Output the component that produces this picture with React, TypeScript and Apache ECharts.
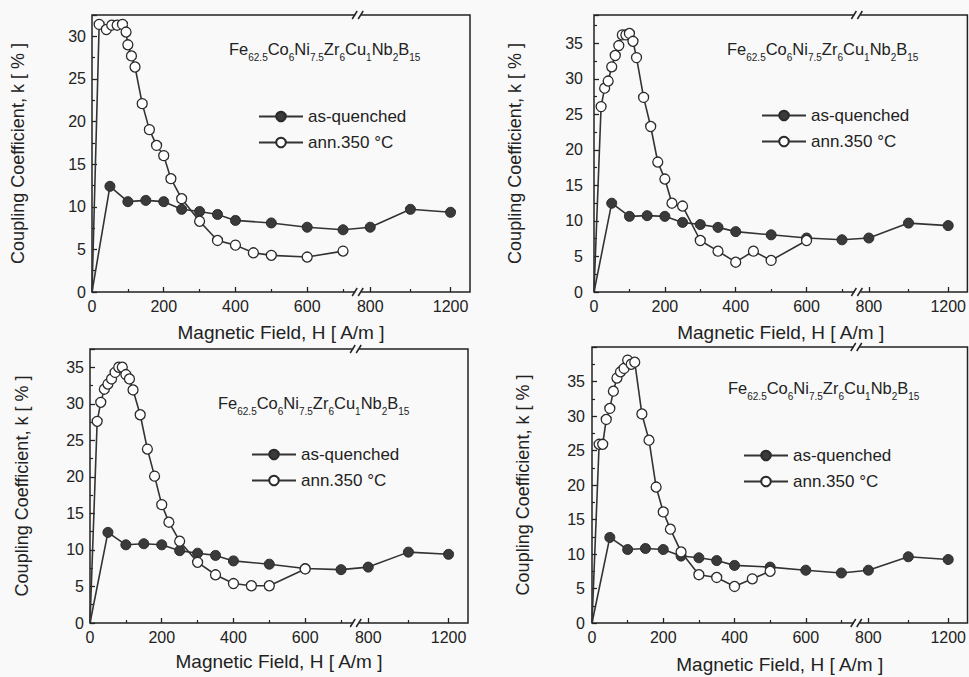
import React, { useEffect, useRef } from 'react';
import * as echarts from 'echarts';

// ---- broken x axis: linear up to the break, compressed after it ----
const BREAK_H = 745;
const COMPRESS = 0.56;
const X_DISPLAY_MAX = 1054;
const toAxis = (h: number) => (h <= BREAK_H ? h : BREAK_H + (h - BREAK_H) * COMPRESS);
const fromAxis = (v: number) => (v <= BREAK_H ? v : BREAK_H + (v - BREAK_H) / COMPRESS);

const X_LABEL_H = [0, 200, 400, 600, 800, 1200];
const X_MINOR_H = [100, 300, 500, 700, 1000];

const SERIES_NAMES = ['as-quenched', 'ann.350 °C'];
const FORMULA = [['Fe', '62.5'], ['Co', '6'], ['Ni', '7.5'], ['Zr', '6'], ['Cu', '1'], ['Nb', '2'], ['B', '15']];

// ---- data (H in A/m, k in %) ----
const AQ_H = [0, 50, 100, 150, 200, 250, 300, 350, 400, 500, 600, 700, 800, 1000, 1200];

const P1_AQ_K = [0, 12.4, 10.6, 10.75, 10.6, 9.7, 9.45, 9.1, 8.4, 8.1, 7.6, 7.3, 7.6, 9.7, 9.35];
const P1_ANN_H = [0, 20, 40, 55, 70, 85, 95, 100, 110, 120, 140, 160, 180, 200, 220, 250, 300, 350, 400, 450, 500, 600, 700];
const P1_ANN_K = [0, 31.4, 30.8, 31.3, 31.3, 31.4, 30.5, 29.0, 27.7, 26.4, 22.1, 19.05, 17.2, 16.0, 13.3, 10.95, 8.3, 6.05, 5.5, 4.6, 4.3, 4.1, 4.8];

const P2_AQ_K = [0, 12.5, 10.65, 10.75, 10.65, 9.8, 9.5, 9.1, 8.5, 8.05, 7.6, 7.35, 7.6, 9.7, 9.35];
const P2_ANN_H = [0, 20, 30, 40, 50, 60, 70, 80, 90, 100, 110, 120, 140, 160, 180, 200, 220, 250, 300, 350, 400, 450, 500, 600];
const P2_ANN_K = [0, 26.1, 28.7, 29.7, 31.7, 33.3, 34.7, 36.2, 36.2, 36.4, 35.3, 33.0, 27.4, 23.3, 18.3, 15.9, 12.5, 12.1, 7.25, 5.75, 4.2, 5.75, 4.45, 7.25];

const P3_AQ_K = [0, 12.4, 10.7, 10.85, 10.7, 9.9, 9.55, 9.25, 8.5, 8.05, 7.45, 7.3, 7.65, 9.7, 9.4];
const P3_ANN_H = [0, 20, 30, 40, 50, 60, 70, 80, 90, 100, 110, 120, 140, 160, 180, 200, 220, 250, 300, 350, 400, 450, 500, 600];
const P3_ANN_K = [0, 27.6, 30.2, 32.0, 32.7, 33.4, 34.3, 35.0, 35.0, 34.0, 33.4, 31.9, 28.5, 23.8, 20.1, 16.2, 13.8, 11.2, 8.3, 6.6, 5.4, 5.1, 5.1, 7.4];

const P4_AQ_K = [0, 12.4, 10.65, 10.8, 10.65, 9.7, 9.45, 9.05, 8.35, 8.1, 7.65, 7.25, 7.65, 9.6, 9.2];
const P4_ANN_H = [0, 20, 30, 40, 50, 60, 70, 80, 90, 100, 110, 120, 140, 160, 180, 200, 220, 250, 300, 350, 400, 450, 500];
const P4_ANN_K = [0, 25.9, 25.9, 29.5, 31.1, 33.6, 35.5, 36.4, 36.9, 38.1, 37.5, 37.8, 30.3, 26.5, 19.7, 16.1, 13.6, 10.3, 7.0, 6.6, 5.3, 6.4, 7.5];

// ---- layout per panel ----
const PANELS = [
  { aqK: P1_AQ_K, annH: P1_ANN_H, annK: P1_ANN_K, left: 92, top: 15, width: 378, height: 277, yMax: 32.5,
    yLabelMargin: 6, yNameGap: 65, xNameGap: 31, legLeft: 258, legTop: 108, fLeft: 229, fTop: 36 },
  { aqK: P2_AQ_K, annH: P2_ANN_H, annK: P2_ANN_K, left: 594, top: 15, width: 374, height: 277, yMax: 39,
    yLabelMargin: 11, yNameGap: 70, xNameGap: 31, legLeft: 761, legTop: 107, fLeft: 727, fTop: 36 },
  { aqK: P3_AQ_K, annH: P3_ANN_H, annK: P3_ANN_K, left: 90, top: 349, width: 378, height: 274, yMax: 37.5,
    yLabelMargin: 6, yNameGap: 59, xNameGap: 29, legLeft: 251, legTop: 446, fLeft: 218, fTop: 390 },
  { aqK: P4_AQ_K, annH: P4_ANN_H, annK: P4_ANN_K, left: 592, top: 347, width: 376, height: 276, yMax: 40,
    yLabelMargin: 7, yNameGap: 60, xNameGap: 32, legLeft: 743, legTop: 447, fLeft: 728, fTop: 375 },
];

const FONT = "'Liberation Sans', Arial, sans-serif";
const INK = '#222';
const BG = '#f9f9f9';

function buildOption() {
  const grid: any[] = [];
  const xAxis: any[] = [];
  const yAxis: any[] = [];
  const series: any[] = [];
  const legend: any[] = [];
  const title: any[] = [];
  const graphic: any[] = [];

  const formulaText = FORMULA.map(([el, sub]) => `{m|${el}}{s|${sub}}`).join('');

  PANELS.forEach((p, i) => {
    grid.push({
      left: p.left, top: p.top, width: p.width, height: p.height,
      show: true, borderColor: INK, borderWidth: 1.5, backgroundColor: 'transparent',
    });
    xAxis.push({
      type: 'value', gridIndex: i, min: 0, max: X_DISPLAY_MAX, position: 'bottom',
      name: 'Magnetic Field, H [ A/m ]', nameLocation: 'middle', nameGap: p.xNameGap,
      nameTextStyle: { fontFamily: FONT, fontSize: 19, color: INK },
      axisLine: { show: false },
      axisTick: { show: true, inside: true, length: 5, customValues: X_LABEL_H.map(toAxis),
        lineStyle: { color: INK, width: 1.3 } },
      axisLabel: { show: true, customValues: X_LABEL_H.map(toAxis), margin: 6,
        fontFamily: FONT, fontSize: 16, color: INK,
        formatter: (v: number) => String(Math.round(fromAxis(v))) },
      splitLine: { show: false },
    });
    xAxis.push({
      type: 'value', gridIndex: i, min: 0, max: X_DISPLAY_MAX, position: 'bottom', offset: 0,
      axisLine: { show: false },
      axisTick: { show: true, inside: true, length: 3, customValues: X_MINOR_H.map(toAxis),
        lineStyle: { color: INK, width: 1.2 } },
      axisLabel: { show: false },
      splitLine: { show: false },
    });
    yAxis.push({
      type: 'value', gridIndex: i, min: 0, max: p.yMax, interval: 5,
      name: 'Coupling Coefficient, k [ % ]', nameLocation: 'middle', nameGap: p.yNameGap,
      nameTextStyle: { fontFamily: FONT, fontSize: 18, color: INK },
      axisLine: { show: false },
      axisTick: { show: true, inside: true, length: 5, lineStyle: { color: INK, width: 1.3 } },
      minorTick: { show: true, splitNumber: 2, length: 3, lineStyle: { color: INK, width: 1.2 } },
      axisLabel: { fontFamily: FONT, fontSize: 16, color: INK, margin: p.yLabelMargin, showMaxLabel: false },
      splitLine: { show: false },
    });

    const mk = (hs: number[], ks: number[]) =>
      hs.map((h, j) => (h === 0 ? { value: [toAxis(h), ks[j]], symbol: 'none' } : [toAxis(h), ks[j]]));

    series.push({
      type: 'line', name: SERIES_NAMES[0], xAxisIndex: 2 * i, yAxisIndex: i,
      data: mk(AQ_H, p.aqK), symbol: 'circle', symbolSize: 10, z: 3,
      lineStyle: { color: '#333', width: 1.6 },
      itemStyle: { color: '#3a3a3a', borderColor: '#2a2a2a', borderWidth: 1 },
    });
    series.push({
      type: 'line', name: SERIES_NAMES[1], xAxisIndex: 2 * i, yAxisIndex: i,
      data: mk(p.annH, p.annK), symbol: 'circle', symbolSize: 10, z: 4,
      lineStyle: { color: '#333', width: 1.6 },
      itemStyle: { color: '#ffffff', borderColor: '#2a2a2a', borderWidth: 1.3 },
    });

    legend.push({
      left: p.legLeft, top: p.legTop, orient: 'vertical', padding: 0,
      itemWidth: 44, itemHeight: 12, itemGap: 9, selectedMode: false,
      data: SERIES_NAMES,
      textStyle: { fontFamily: FONT, fontSize: 17, color: INK },
    });

    title.push({
      left: p.fLeft, top: p.fTop, padding: 0,
      text: formulaText,
      textStyle: {
        fontWeight: 'normal',
        rich: {
          m: { fontFamily: FONT, fontSize: 16.5, fontWeight: 'normal', color: INK, lineHeight: 26, verticalAlign: 'middle' },
          s: { fontFamily: FONT, fontSize: 10, fontWeight: 'normal', color: INK, lineHeight: 10, verticalAlign: 'bottom' },
        },
      },
    });

    const bx = p.left + (p.width * BREAK_H) / X_DISPLAY_MAX;
    [p.top, p.top + p.height].forEach((yl) => {
      graphic.push({ type: 'rect', z: 100, shape: { x: bx - 4, y: yl - 2, width: 6, height: 4 }, style: { fill: BG } });
      graphic.push({ type: 'line', z: 101, shape: { x1: bx - 7, y1: yl + 4, x2: bx - 2, y2: yl - 4 }, style: { stroke: INK, lineWidth: 1.5 } });
      graphic.push({ type: 'line', z: 101, shape: { x1: bx - 1, y1: yl + 4, x2: bx + 4, y2: yl - 4 }, style: { stroke: INK, lineWidth: 1.5 } });
    });
  });

  return {
    animation: false,
    backgroundColor: BG,
    textStyle: { fontFamily: FONT },
    title, legend, grid, xAxis, yAxis, series, graphic,
  };
}

export default function App() {
  const ref = useRef<HTMLDivElement>(null);
  useEffect(() => {
    if (!ref.current) return;
    const chart = echarts.init(ref.current, undefined, { renderer: 'svg' });
    chart.setOption(buildOption() as any);
    return () => chart.dispose();
  }, []);
  return <div ref={ref} style={{ position: 'fixed', left: 0, top: 0, width: 969, height: 677 }} />;
}
